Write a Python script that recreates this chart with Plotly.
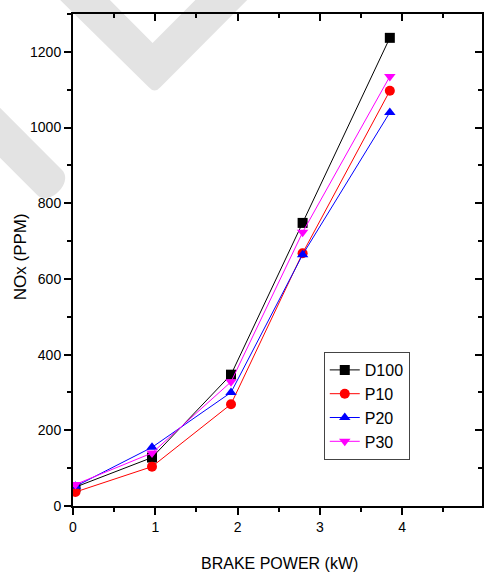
import plotly.graph_objects as go

# ---- data ----
brake_power = [0.03, 0.96, 1.92, 2.79, 3.85]
series_names = ["D100", "P10", "P20", "P30"]
d100 = [50, 128, 347, 748, 1237]
p10 = [37, 104, 269, 668, 1097]
p20 = [52, 155, 300, 664, 1040]
p30 = [57, 140, 328, 723, 1135]
x_ticks = [0, 1, 2, 3, 4, 5]
y_ticks = [0, 200, 400, 600, 800, 1000, 1200]

W, H = 484, 574
ML, MR, MT, MB = 73, 0, 14, 68
PW, PH = W - ML - MR, H - MT - MB

def px(x):
    return (x - ML) / PW

def py(y):
    return (H - MB - y) / PH

def path(cmds):
    out = []
    for c in cmds:
        if isinstance(c, str):
            out.append(c)
        else:
            out.append(f"{px(c[0]):.4f},{py(c[1]):.4f}")
    return " ".join(out)

font_family = "Liberation Sans, Arial"

fig = go.Figure()
styles = [
    ("black", "square"),
    ("red", "circle"),
    ("blue", "triangle-up"),
    ("magenta", "triangle-down"),
]
for name, vals, (col, sym) in zip(series_names, [d100, p10, p20, p30], styles):
    fig.add_trace(go.Scatter(
        x=brake_power, y=vals, name=name, mode="lines+markers",
        line=dict(color=col, width=1),
        marker=dict(symbol=sym, size=10, color=col),
    ))
# invisible helper trace so the top/right tick axes get drawn
fig.add_trace(go.Scatter(x=[brake_power[0]], y=[d100[0]], xaxis="x2", yaxis="y2",
                         mode="markers", marker=dict(opacity=0), showlegend=False,
                         hoverinfo="skip"))

# watermark shapes
wm = "#e3e3e3"
fig.add_shape(type="path", xref="paper", yref="paper", layer="below",
              fillcolor=wm, line=dict(width=0),
              path=path(["M", (57, -3), "L", (149, 87), "Q", (155, 94), (161, 87),
                         "L", (251, -3), "L", (199, -3), "L", (153, 43), "L", (107, -3), "Z"]))
fig.add_shape(type="path", xref="paper", yref="paper", layer="below",
              fillcolor=wm, line=dict(width=0),
              path=path(["M", (-2, 106), "L", (62, 170), "C", (74, 182), (49, 207), (37, 195),
                         "L", (-2, 156), "Z"]))

axis_common = dict(showline=True, linecolor="black", showgrid=False, zeroline=False,
                   tickcolor="black", tickwidth=1.5)

fig.update_layout(
    width=W, height=H,
    margin=dict(l=ML, r=MR, t=MT, b=MB),
    paper_bgcolor="white", plot_bgcolor="rgba(0,0,0,0)",
    showlegend=True,
    legend=dict(x=px(325), y=py(352), xanchor="left", yanchor="top",
                bgcolor="white", bordercolor="#444", borderwidth=1,
                font=dict(family=font_family, size=16, color="black"),
                itemwidth=30, tracegroupgap=0),
    xaxis=dict(range=[0, 4.97], tickvals=x_ticks, ticks="outside", ticklen=7, mirror=True,
               linewidth=2, minor=dict(dtick=0.5, ticks="outside", ticklen=4, tickcolor="black", tickwidth=1.5),
               tickfont=dict(family=font_family, size=14, color="black"), **axis_common),
    yaxis=dict(range=[0, 1300], tickvals=y_ticks, ticks="outside", ticklen=7, mirror=True,
               linewidth=2, minor=dict(dtick=100, ticks="outside", ticklen=4, tickcolor="black", tickwidth=1.5),
               tickfont=dict(family=font_family, size=14, color="black"), **axis_common),
    xaxis2=dict(range=[0, 4.97], overlaying="x", side="top", tickvals=x_ticks,
                ticks="inside", ticklen=7, showticklabels=False, linewidth=1.5,
                minor=dict(dtick=0.5, ticks="inside", ticklen=4, tickcolor="black", tickwidth=1.5),
                **axis_common),
    yaxis2=dict(range=[0, 1300], overlaying="y", side="right", tickvals=y_ticks,
                ticks="inside", ticklen=7, showticklabels=False, linewidth=2,
                minor=dict(dtick=100, ticks="inside", ticklen=4, tickcolor="black", tickwidth=1.5),
                **axis_common),
    annotations=[
        dict(text="BRAKE POWER (kW)", xref="paper", yref="paper",
             x=px(281), y=py(563), xanchor="center", yanchor="middle", showarrow=False,
             font=dict(family=font_family, size=16, color="black")),
        dict(text="NOx (PPM)", xref="paper", yref="paper", textangle=-90,
             x=px(20), y=py(257), xanchor="center", yanchor="middle", showarrow=False,
             font=dict(family=font_family, size=17, color="black")),
    ],
)

fig.write_html("out.html", config={"displayModeBar": False},
               post_script="document.body.style.margin='0';document.body.style.overflow='hidden';")
